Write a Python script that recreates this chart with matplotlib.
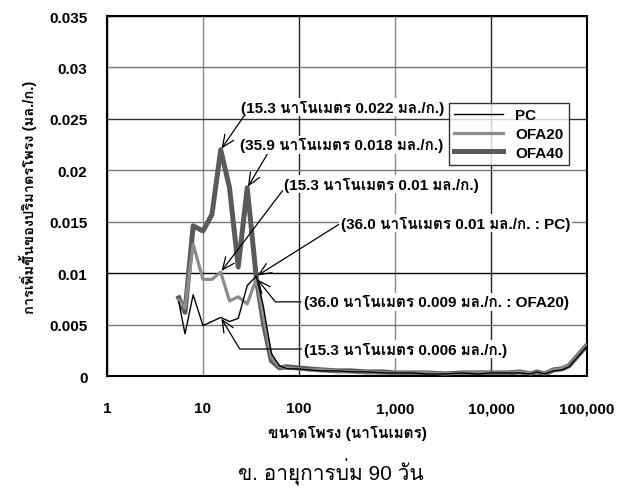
import matplotlib
matplotlib.use('Agg')
import matplotlib.pyplot as plt
import matplotlib.font_manager as fm
from fontTools.ttLib import TTFont

# pore diameter (nm) and cumulative-increment pore volume (ml/g)
pore = [5.6, 6.5, 7.9, 10.0, 12.4, 15.3, 18.9, 23.3, 28.9, 36.0, 42.5, 51.5, 62.5, 75.5,
        94, 125, 170, 250, 350, 500, 750, 1000, 1500, 2200, 3300, 5000, 7500, 10000,
        15000, 20000, 26000, 30000, 36000, 45000, 55000, 65000, 100000]
pc = [0.0072, 0.0041, 0.0079, 0.0049, 0.0053, 0.0057, 0.0053, 0.0056, 0.0088, 0.0097,
      0.0068, 0.0022, 0.0010, 0.0007, 0.0007, 0.0006, 0.0005, 0.0005, 0.0004, 0.0004,
      0.0003, 0.0003, 0.0003, 0.0002, 0.0002, 0.0003, 0.0002, 0.0003, 0.0003, 0.0003,
      0.0002, 0.0004, 0.0002, 0.0005, 0.0006, 0.0009, 0.0029]
ofa20 = [0.0074, 0.0066, 0.0128, 0.0094, 0.0094, 0.0101, 0.0073, 0.0077, 0.0070, 0.0095,
         0.0058, 0.0018, 0.0009, 0.0008, 0.0007, 0.0006, 0.0006, 0.0005, 0.0004, 0.0004,
         0.0003, 0.0003, 0.0003, 0.0003, 0.0002, 0.0003, 0.0003, 0.0003, 0.0003, 0.0004,
         0.0002, 0.0004, 0.0002, 0.0006, 0.0007, 0.0010, 0.0030]
ofa40 = [0.0076, 0.0062, 0.0146, 0.0141, 0.0157, 0.0220, 0.0183, 0.0106, 0.0183, 0.0095,
         0.0052, 0.0015, 0.0008, 0.0009, 0.0008, 0.0007, 0.0006, 0.0005, 0.0005, 0.0004,
         0.0004, 0.0003, 0.0003, 0.0003, 0.0002, 0.0003, 0.0003, 0.0003, 0.0003, 0.0004,
         0.0002, 0.0004, 0.0002, 0.0006, 0.0007, 0.0010, 0.0030]

xticks = [1, 10, 100, 1000, 10000, 100000]
xticklabels = ['1', '10', '100', '1,000', '10,000', '100,000']
yticks = [0, 0.005, 0.01, 0.015, 0.02, 0.025, 0.03, 0.035]
yticklabels = ['0', '0.005', '0.01', '0.015', '0.02', '0.025', '0.03', '0.035']

# find an installed font that has Thai glyphs
thai_font = None
for f in fm.fontManager.ttflist:
    try:
        cmap = TTFont(f.fname, fontNumber=0, lazy=True).getBestCmap()
    except Exception:
        continue
    if cmap and 0x0E19 in cmap:
        thai_font = f.name
        break

fam = ['Liberation Sans'] + ([thai_font] if thai_font else []) + ['DejaVu Sans']
plt.rcParams['font.family'] = fam

fig = plt.figure(figsize=(6.18, 4.89), dpi=100)
ax = fig.add_axes([0.1731, 0.229, 0.7767, 0.7362])

ax.plot(pore, pc, color='black', lw=1.0, label='PC', zorder=4)
ax.plot(pore, ofa20, color='#8c8c8c', lw=2.3, label='OFA20', zorder=3)
ax.plot(pore, ofa40, color='#5a5a5a', lw=3.6, label='OFA40', zorder=2)

ax.set_xscale('log')
ax.set_xlim(1, 100000)
ax.set_ylim(0, 0.035)
ax.set_xticks(xticks)
ax.set_xticklabels(xticklabels)
ax.set_yticks(yticks)
ax.set_yticklabels(yticklabels)
ax.minorticks_off()
ax.tick_params(length=0, labelsize=11, pad=14)
ax.tick_params(axis='x', pad=18)
for lab in ax.get_xticklabels() + ax.get_yticklabels():
    lab.set_fontweight('bold')

ax.grid(True, lw=1.0, zorder=0)
for gl, c in zip(ax.get_ygridlines(), ['k', '#777777', 'k', '#777777', '#777777', '#333333', '#777777', 'k']):
    gl.set_color(c)
for gl, c in zip(ax.get_xgridlines(), ['k', '#888888', '#222222', '#888888', '#222222', 'k']):
    gl.set_color(c)
for s in ax.spines.values():
    s.set_linewidth(1.5)

ax.set_xlabel('ขนาดโพรง (นาโนเมตร)', fontsize=11, fontweight='bold', labelpad=7)
ax.set_ylabel('การเพิ่มขึ้นของปริมาตรโพรง (มล./ก.)', fontsize=10.5, fontweight='bold', labelpad=9)
fig.text(0.535, 0.035, 'ข. อายุการบ่ม 90 วัน', fontsize=15, ha='center', va='center')

leg = ax.legend(loc='upper left', bbox_to_anchor=(0.712, 0.758), frameon=True, fancybox=False,
                fontsize=11, handlelength=3.2, borderpad=0.35, labelspacing=0.3,
                handletextpad=0.8, borderaxespad=0)
leg.get_frame().set_edgecolor('black')
leg.get_frame().set_linewidth(1.0)
for t in leg.get_texts():
    t.set_fontweight('bold')

box = dict(boxstyle='square,pad=0.1', fc='white', ec='none')
arrow = dict(arrowstyle='->,head_length=0.8,head_width=0.35', color='black', lw=0.9,
             shrinkA=0, shrinkB=1)

notes = [
    ('(15.3 นาโนเมตร 0.022 มล./ก.)', (pore[5], ofa40[5]), (0.279, 0.747), (0.02, 0.0), 'arc3'),
    ('(35.9 นาโนเมตร 0.018 มล./ก.)', (pore[8], ofa40[8]), (0.277, 0.642), (0.14, 0.0), 'arc3'),
    ('(15.3 นาโนเมตร 0.01 มล./ก.)', (pore[5], ofa20[5]), (0.369, 0.533), (0.0, 0.2), 'arc3'),
    ('(36.0 นาโนเมตร 0.01 มล./ก. : PC)', (pore[9], pc[9]), (0.4875, 0.425), (-0.01, 0.4), 'arc3'),
    ('(36.0 นาโนเมตร 0.009 มล./ก. : OFA20)', (pore[9], ofa20[9]), (0.41, 0.206), (-0.01, 0.5),
     'angle,angleA=0,angleB=-51,rad=0'),
    ('(15.3 นาโนเมตร 0.006 มล./ก.)', (pore[5], pc[5]), (0.41, 0.075), (-0.01, 0.5),
     'angle,angleA=0,angleB=-59,rad=0'),
]
for txt, xy, xyt, rel, cs in notes:
    ax.annotate(txt, xy=xy, xytext=xyt, textcoords='axes fraction', fontsize=11,
                fontweight='bold', ha='left', va='center', bbox=box, zorder=6,
                arrowprops=dict(arrow, relpos=rel, connectionstyle=cs))

fig.savefig('out.png', dpi=100)
